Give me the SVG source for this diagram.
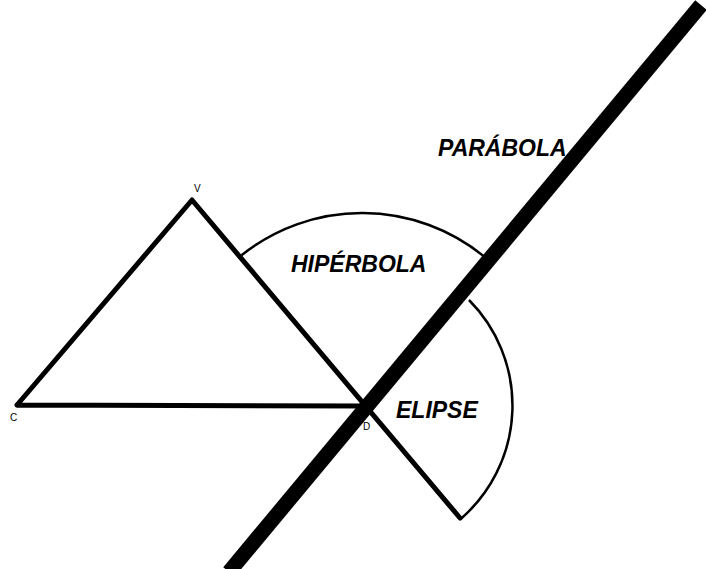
<svg xmlns="http://www.w3.org/2000/svg" width="706" height="569" viewBox="0 0 706 569">
<style>
.tri{stroke:#000;stroke-width:5;fill:none;stroke-linecap:round;stroke-linejoin:round}
.arc{stroke:#000;stroke-width:2.5;fill:none}
.big{font-family:"Liberation Sans",Arial,sans-serif;font-weight:bold;font-style:italic;font-size:23px;fill:#000}
.sm{font-family:"Liberation Sans",Arial,sans-serif;font-size:10px;fill:#000}
</style>
<rect width="706" height="569" fill="#fff"/>
<g id="arcs">
<path class="arc" d="M241.6,255.2 A193,193 0 0 1 484,256.4"/>
<path class="arc" d="M469,300 A150,150 0 0 1 460.4,519.2"/>
</g>
<g id="triangle">
<path class="tri" d="M17,405 L192,200 L460,518 M17,405 L362,406"/>
</g>
<g id="parabola-line">
<line x1="701" y1="5" x2="229" y2="572" stroke="#000" stroke-width="15"/>
</g>
<g id="labels">
<text class="big" x="438" y="156">PARÁBOLA</text>
<text class="big" x="291" y="272">HIPÉRBOLA</text>
<text class="big" x="396" y="418">ELIPSE</text>
<text class="sm" x="194" y="192">V</text>
<text class="sm" x="10" y="421">C</text>
<text class="sm" x="363" y="430">D</text>
</g>
</svg>
